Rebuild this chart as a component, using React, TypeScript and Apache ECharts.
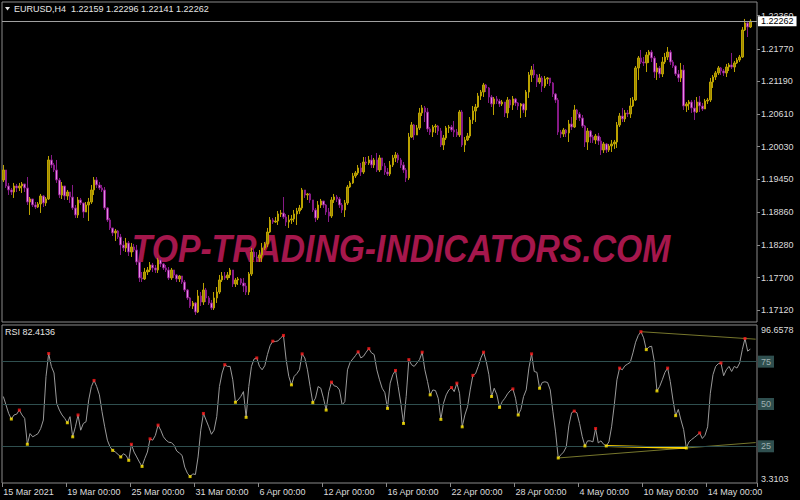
import React, { useEffect, useRef } from 'react';
import * as echarts from 'echarts';

const symbolName = 'EURUSD,H4';
const firstOpen = 1.19436;

const closes = [
  1.19614,1.19329,1.19258,1.19222,1.19329,1.19294,1.19329,1.19365,1.19294,1.19044,
  1.19098,1.18991,1.18955,1.19009,1.19151,1.19027,1.19098,1.19792,1.19703,1.19614,
  1.19436,1.19169,1.19329,1.19151,1.19222,1.19133,1.18938,1.18813,1.19080,1.19027,
  1.18866,1.18991,1.19044,1.19258,1.19436,1.19347,1.19294,1.19258,1.18938,1.18724,
  1.18582,1.18493,1.18528,1.18421,1.18279,1.18226,1.18315,1.18154,1.18243,1.18190,
  1.17976,1.17692,1.17674,1.17798,1.17834,1.17923,1.17870,1.17834,1.18012,1.17941,
  1.17870,1.17834,1.17692,1.17834,1.17745,1.17674,1.17727,1.17620,1.17478,1.17336,
  1.17193,1.17247,1.17086,1.17371,1.17264,1.17478,1.17336,1.17247,1.17158,1.17336,
  1.17442,1.17656,1.17727,1.17692,1.17745,1.17834,1.17585,1.17656,1.17674,1.17603,
  1.17549,1.17442,1.17763,1.18154,1.18066,1.18048,1.18101,1.18226,1.18297,1.18510,
  1.18724,1.18688,1.18706,1.18831,1.18849,1.18777,1.18688,1.18724,1.18742,1.18831,
  1.18884,1.18938,1.19258,1.19169,1.19187,1.19080,1.18902,1.18760,1.18991,1.19062,
  1.18991,1.18866,1.18795,1.19080,1.19133,1.19098,1.18991,1.18902,1.19027,1.19311,
  1.19383,1.19507,1.19561,1.19650,1.19578,1.19756,1.19739,1.19792,1.19703,1.19792,
  1.19614,1.19828,1.19685,1.19578,1.19543,1.19703,1.19828,1.19881,1.19792,1.19703,
  1.19614,1.19472,1.20201,1.20415,1.20237,1.20362,1.20629,1.20718,1.20646,1.20344,
  1.20290,1.20379,1.20397,1.20308,1.20059,1.20184,1.20362,1.20379,1.20326,1.20290,
  1.20237,1.20646,1.20059,1.20148,1.20219,1.20504,1.20664,1.20735,1.20931,1.21002,
  1.21127,1.21074,1.20913,1.20789,1.20878,1.20842,1.20789,1.20824,1.20629,1.20860,
  1.20771,1.20878,1.20807,1.20753,1.20789,1.20682,1.21002,1.21305,1.21394,1.21305,
  1.21180,1.21252,1.21109,1.21234,1.21252,1.21163,1.20967,1.20860,1.20290,1.20255,
  1.20326,1.20273,1.20433,1.20379,1.20682,1.20611,1.20540,1.20397,1.20112,1.20308,
  1.20201,1.20148,1.20219,1.20130,1.19970,1.20077,1.19970,1.20041,1.20077,1.20112,
  1.20415,1.20575,1.20522,1.20629,1.20611,1.20753,1.20860,1.21430,1.21608,1.21536,
  1.21519,1.21661,1.21714,1.21608,1.21358,1.21430,1.21323,1.21536,1.21625,1.21714,
  1.21536,1.21465,1.21323,1.21252,1.21394,1.20753,1.20789,1.20824,1.20718,1.20646,
  1.20824,1.20753,1.20700,1.20842,1.20860,1.21180,1.21269,1.21341,1.21430,1.21376,
  1.21341,1.21447,1.21483,1.21447,1.21519,1.21572,1.21625,1.22106,1.22231,1.22159,
  1.22262,
];

const highs = [
  1.19703,1.19578,1.19383,1.19294,1.19383,1.19365,1.19383,1.19400,1.19365,1.19489,
  1.19133,1.19098,1.19044,1.19044,1.19187,1.19169,1.19133,1.19863,1.19881,1.19739,
  1.19792,1.19472,1.19400,1.19329,1.19258,1.19222,1.19347,1.18991,1.19133,1.19116,
  1.19027,1.19044,1.19116,1.19347,1.19489,1.19489,1.19400,1.19347,1.19311,1.18955,
  1.18760,1.18582,1.18564,1.18546,1.18475,1.18350,1.18404,1.18350,1.18315,1.18297,
  1.18279,1.18012,1.17798,1.17870,1.17887,1.17976,1.17959,1.17923,1.18048,1.18048,
  1.17959,1.17923,1.17887,1.17870,1.17834,1.17763,1.17745,1.17727,1.17656,1.17496,
  1.17353,1.17282,1.17264,1.17478,1.17442,1.17603,1.17514,1.17371,1.17300,1.17442,
  1.17531,1.17745,1.17798,1.17798,1.17798,1.17870,1.17834,1.17692,1.17709,1.17692,
  1.17692,1.17603,1.17798,1.18226,1.18226,1.18154,1.18190,1.18315,1.18332,1.18582,
  1.18777,1.18760,1.18777,1.18884,1.18902,1.19133,1.18831,1.18813,1.18813,1.18902,
  1.18938,1.18991,1.19294,1.19258,1.19205,1.19205,1.19080,1.18938,1.19062,1.19098,
  1.19062,1.19009,1.18938,1.19133,1.19187,1.19169,1.19133,1.19027,1.19080,1.19347,
  1.19418,1.19561,1.19596,1.19703,1.19739,1.19845,1.19845,1.19863,1.19881,1.19828,
  1.19917,1.19881,1.19828,1.19739,1.19650,1.19774,1.19881,1.19934,1.19917,1.19828,
  1.19756,1.19650,1.20273,1.20468,1.20433,1.20415,1.20718,1.20771,1.20753,1.20718,
  1.20379,1.20415,1.20433,1.20415,1.20362,1.20237,1.20397,1.20415,1.20415,1.20486,
  1.20344,1.20682,1.20682,1.20201,1.20273,1.20557,1.20753,1.20789,1.20985,1.21038,
  1.21163,1.21145,1.21091,1.20949,1.20913,1.20931,1.20878,1.20860,1.20824,1.20913,
  1.20878,1.20931,1.20896,1.20824,1.20807,1.20807,1.21038,1.21358,1.21465,1.21501,
  1.21323,1.21323,1.21287,1.21287,1.21269,1.21252,1.21180,1.20985,1.20896,1.20326,
  1.20362,1.20344,1.20504,1.20557,1.20771,1.20700,1.20646,1.20593,1.20415,1.20362,
  1.20326,1.20237,1.20255,1.20273,1.20201,1.20112,1.20095,1.20077,1.20148,1.20148,
  1.20468,1.20629,1.20718,1.20682,1.20682,1.20896,1.20913,1.21465,1.21643,1.21750,
  1.21625,1.21714,1.21750,1.21750,1.21643,1.21519,1.21465,1.21625,1.21697,1.21803,
  1.21750,1.21572,1.21483,1.21394,1.21519,1.21483,1.20824,1.20860,1.20860,1.20860,
  1.20913,1.20931,1.20807,1.20878,1.20896,1.21252,1.21305,1.21376,1.21465,1.21447,
  1.21412,1.21501,1.21519,1.21697,1.21554,1.21608,1.21661,1.22159,1.22302,1.22266,
  1.22296,
];

const lows = [
  1.19400,1.19294,1.19169,1.19169,1.19116,1.19222,1.19240,1.19205,1.19222,1.18991,
  1.18813,1.18955,1.18920,1.18938,1.18849,1.18955,1.18973,1.19080,1.19650,1.19578,
  1.19383,1.19116,1.19098,1.19080,1.19080,1.19027,1.18902,1.18760,1.18760,1.18991,
  1.18760,1.18866,1.18706,1.19009,1.19169,1.19294,1.19258,1.19222,1.18902,1.18688,
  1.18546,1.18439,1.18350,1.18386,1.18101,1.18172,1.18154,1.18083,1.18066,1.18154,
  1.17923,1.17620,1.17620,1.17656,1.17745,1.17798,1.17798,1.17781,1.17781,1.17887,
  1.17834,1.17798,1.17656,1.17656,1.17692,1.17620,1.17620,1.17585,1.17442,1.17300,
  1.17158,1.17140,1.17033,1.17069,1.17193,1.17211,1.17264,1.17211,1.17122,1.17122,
  1.17247,1.17407,1.17620,1.17656,1.17656,1.17692,1.17531,1.17531,1.17567,1.17567,
  1.17442,1.17389,1.17389,1.17727,1.18012,1.17976,1.17976,1.17976,1.18190,1.18243,
  1.18493,1.18653,1.18671,1.18635,1.18777,1.18742,1.18617,1.18582,1.18653,1.18688,
  1.18635,1.18831,1.18902,1.19116,1.19080,1.19027,1.18866,1.18688,1.18724,1.18938,
  1.18938,1.18813,1.18688,1.18760,1.19027,1.19044,1.18938,1.18849,1.18777,1.18991,
  1.19294,1.19365,1.19472,1.19525,1.19507,1.19543,1.19703,1.19703,1.19650,1.19650,
  1.19578,1.19578,1.19614,1.19525,1.19507,1.19507,1.19667,1.19756,1.19739,1.19650,
  1.19561,1.19400,1.19436,1.20184,1.20148,1.20290,1.20326,1.20575,1.20468,1.20290,
  1.20237,1.20201,1.20273,1.20237,1.20023,1.19970,1.20148,1.20273,1.20290,1.20201,
  1.20201,1.20201,1.20023,1.19934,1.20130,1.20184,1.20433,1.20468,1.20718,1.20860,
  1.20913,1.21002,1.20807,1.20735,1.20593,1.20789,1.20735,1.20753,1.20557,1.20540,
  1.20718,1.20682,1.20753,1.20682,1.20540,1.20629,1.20557,1.20896,1.21180,1.21252,
  1.21091,1.21145,1.21002,1.21074,1.21145,1.21109,1.20913,1.20807,1.20237,1.20184,
  1.20201,1.20201,1.20112,1.20326,1.20362,1.20504,1.20486,1.20362,1.20023,1.19970,
  1.20095,1.20095,1.20077,1.20059,1.19881,1.19917,1.19917,1.19934,1.19934,1.19988,
  1.20006,1.20379,1.20468,1.20468,1.20557,1.20540,1.20735,1.20842,1.21216,1.21501,
  1.21465,1.21358,1.21519,1.21536,1.21252,1.21216,1.21252,1.21269,1.21501,1.21572,
  1.21483,1.21430,1.21287,1.21180,1.21180,1.20682,1.20646,1.20682,1.20629,1.20504,
  1.20629,1.20646,1.20664,1.20700,1.20789,1.20824,1.21074,1.21216,1.21305,1.21305,
  1.21287,1.21269,1.21376,1.21412,1.21358,1.21501,1.21536,1.21608,1.22088,1.21981,
  1.22141,
];

const rsiValues = [
  54.4,49.4,44.4,41.1,43.5,44.0,46.4,43.5,41.5,26.2,
  32.5,30.6,31.5,32.5,35.5,40.5,66.3,79.8,72.2,68.3,
  50.4,46.4,43.5,41.5,38.9,42.5,30.6,36.5,43.5,34.5,
  38.5,39.5,52.4,60.3,63.9,60.3,55.4,45.4,36.5,28.6,
  24.6,22.6,21.6,20.2,18.7,20.6,19.6,16.7,26.2,21.6,
  18.7,15.7,13.1,17.7,21.6,29.4,28.6,31.5,37.5,34.5,
  30.6,28.6,27.4,27.2,25.6,22.2,21.0,19.6,12.7,9.1,
  7.1,8.7,8.3,18.7,34.5,44.4,40.5,36.5,32.1,34.5,
  42.5,60.3,68.3,73.2,72.2,72.2,64.3,51.0,52.4,54.4,
  57.3,42.1,60.3,72.2,76.6,77.2,72.2,70.2,72.6,79.2,
  84.5,87.1,86.9,87.3,89.1,90.5,76.2,66.3,61.3,66.3,
  67.9,70.2,79.6,77.2,70.2,60.3,50.8,53.4,60.3,59.3,
  53.4,46.4,57.3,62.9,60.7,60.3,58.3,49.4,51.4,70.2,
  74.6,76.6,78.6,80.8,77.2,78.2,80.6,82.7,80.2,79.2,
  70.2,64.3,59.3,56.7,47.4,62.3,67.3,69.8,60.3,50.4,
  38.5,54.4,76.2,73.2,72.2,74.2,76.2,80.6,70.2,63.3,
  55.4,58.3,57.9,53.4,40.9,50.4,55.4,58.3,59.7,57.3,
  62.3,56.3,36.5,43.5,48.4,58.3,66.9,67.9,72.2,77.2,
  80.6,75.2,67.3,54.4,59.3,55.4,48.0,51.4,53.4,56.0,
  57.9,58.9,53.4,43.5,46.8,54.4,58.3,71.2,79.6,69.2,
  68.7,59.3,62.7,63.1,62.7,58.3,45.4,33.5,18.1,20.0,
  21.6,24.6,37.5,44.8,45.8,44.8,38.5,30.6,25.2,28.2,
  28.2,27.6,35.5,27.0,28.2,26.2,25.2,27.6,36.5,49.4,
  64.3,71.2,70.2,72.6,73.6,74.6,80.2,86.5,90.5,92.7,
  89.1,82.1,83.7,84.1,75.2,57.7,60.3,64.3,68.7,71.2,
  63.3,52.4,43.1,46.8,40.5,34.9,24.0,27.6,29.0,30.2,
  31.5,32.9,29.6,31.5,36.5,56.3,67.3,72.2,73.8,74.2,
  66.7,70.2,72.2,69.2,72.2,71.2,74.2,82.1,88.7,81.2,
  82.4136,
];

const rsiPeaks = [6,17,28,34,48,55,58,75,83,95,101,105,112,123,133,137,147,152,157,168,170,176,180,191,198,214,222,231,239,249,261,269,278];
const rsiTroughs = [3,9,24,26,41,44,47,52,70,87,91,108,116,121,144,150,160,164,172,183,186,193,201,208,218,226,241,245,252,256];

const priceTicks = [1.1712, 1.177, 1.1828, 1.1886, 1.1945, 1.2003, 1.2061, 1.2119, 1.2177, 1.2236];
const priceMin = 1.16908;
const priceMax = 1.22604;
const rsiLevels = [75, 50, 25];
const rsiMin = 3.3103;
const rsiMax = 96.6578;
const timeLabels = ['15 Mar 2021', '19 Mar 00:00', '25 Mar 00:00', '31 Mar 00:00', '6 Apr 00:00', '12 Apr 00:00', '16 Apr 00:00', '22 Apr 00:00', '28 Apr 00:00', '4 May 00:00', '10 May 00:00', '14 May 00:00'];
const timeLabelBars = [0, 24, 48, 72, 96, 120, 144, 168, 192, 216, 240, 264];
const upperTrendBars = [239, 278];
const lowerTrendBars = [208, 256];
const supportSegmentBars = [226, 256];
const emptySlotsRight = 2;

const FONT = '"Liberation Sans", Arial, sans-serif';

export default function App() {
  const ref = useRef<HTMLDivElement>(null);
  useEffect(() => {
    if (!ref.current) return;
    const chart = echarts.init(ref.current, undefined, { renderer: 'svg' });
    const n = closes.length;
    const slots = n + emptySlotsRight;
    const categories = Array.from({ length: slots }, (_, i) => String(i));
    const candles = closes.map((c, i) => {
      const o = i === 0 ? firstOpen : closes[i - 1];
      return [o, c, Math.min(lows[i], o, c), Math.max(highs[i], o, c)];
    });
    const labelMap = new Map<number, string>();
    timeLabelBars.forEach((b, k) => labelMap.set(b, timeLabels[k]));
    const lastX = slots - 1;
    const extend = (bars: number[]) => {
      const [a, b] = bars;
      const va = rsiValues[a];
      const vb = rsiValues[b];
      const ve = va + ((vb - va) * (lastX - a)) / (b - a);
      return [[a, va], [lastX, ve]];
    };
    const last = n - 1;
    const bid = closes[last];
    const title = `${symbolName}  ${closes[last - 1].toFixed(5)} ${highs[last].toFixed(5)} ${lows[last].toFixed(5)} ${bid.toFixed(5)}`;

    const option: any = {
      backgroundColor: '#000000',
      animation: false,
      textStyle: { fontFamily: FONT },
      grid: [
        { left: 2, top: 2, width: 755, height: 320, show: true, borderColor: '#8a8a8a', borderWidth: 1 },
        { left: 2, top: 325, width: 755, height: 158, show: true, borderColor: '#8a8a8a', borderWidth: 1 },
      ],
      xAxis: [
        { type: 'category', gridIndex: 0, data: categories, show: false },
        {
          type: 'category', gridIndex: 1, data: categories,
          axisLine: { show: false },
          splitLine: { show: false },
          axisTick: { show: true, interval: (i: number) => labelMap.has(i), length: 4, lineStyle: { color: '#8a8a8a' } },
          axisLabel: {
            interval: (i: number) => labelMap.has(i),
            formatter: (_v: string, i: number) => labelMap.get(i) ?? '',
            align: 'left', color: '#dcdcdc', fontSize: 9, margin: 4, fontFamily: FONT,
          },
        },
      ],
      yAxis: [
        {
          type: 'value', gridIndex: 0, position: 'right', min: priceMin, max: priceMax,
          splitLine: { show: false }, axisLine: { show: false },
          axisTick: { show: true, customValues: priceTicks, length: 3, lineStyle: { color: '#8a8a8a' } },
          axisLabel: { customValues: priceTicks, formatter: (v: number) => v.toFixed(5), color: '#dcdcdc', fontSize: 9, margin: 4, fontFamily: FONT },
        },
        {
          type: 'value', gridIndex: 1, position: 'right', min: rsiMin, max: rsiMax,
          splitLine: { show: false }, axisLine: { show: false }, axisTick: { show: false }, axisLabel: { show: false },
        },
      ],
      series: [
        {
          type: 'line', xAxisIndex: 0, yAxisIndex: 0, data: [], symbol: 'none', z: 1,
          markLine: {
            silent: true, symbol: ['none', 'none'], precision: 5,
            lineStyle: { color: '#a0a0a0', width: 1, type: 'solid' },
            label: { show: true, position: 'end', formatter: bid.toFixed(5), backgroundColor: '#ffffff', color: '#000000', fontSize: 9, padding: [1, 3, 0, 3], distance: 1, fontFamily: FONT },
            data: [{ yAxis: bid }],
          },
        },
        {
          type: 'candlestick', xAxisIndex: 0, yAxisIndex: 0, data: candles, barWidth: 2, z: 2,
          itemStyle: { color: '#a08a00', color0: '#e48ae4', borderColor: '#bba200', borderColor0: '#861a86', borderWidth: 1 },
        },
        {
          type: 'line', xAxisIndex: 1, yAxisIndex: 1, data: extend(upperTrendBars), symbol: 'none', z: 2,
          lineStyle: { color: '#77772c', width: 1 },
          markLine: {
            silent: true, symbol: ['none', 'none'],
            lineStyle: { color: '#2f4f4f', width: 1, type: 'solid' },
            label: { show: true, position: 'end', formatter: '{c}', backgroundColor: '#2f4f4f', color: '#9fb0b0', fontSize: 9, padding: [2, 3, 1, 3], distance: 1, fontFamily: FONT },
            data: rsiLevels.map((v) => ({ yAxis: v })),
          },
        },
        { type: 'line', xAxisIndex: 1, yAxisIndex: 1, data: extend(lowerTrendBars), symbol: 'none', z: 2, lineStyle: { color: '#77772c', width: 1 } },
        {
          type: 'line', xAxisIndex: 1, yAxisIndex: 1, symbol: 'none', z: 3,
          data: supportSegmentBars.map((b) => [b, rsiValues[b]]),
          lineStyle: { color: '#ffd400', width: 2 },
        },
        { type: 'line', xAxisIndex: 1, yAxisIndex: 1, data: rsiValues, symbol: 'none', z: 4, lineStyle: { color: '#9a9a9a', width: 1 } },
        {
          type: 'scatter', xAxisIndex: 1, yAxisIndex: 1, symbol: 'rect', symbolSize: 3, z: 5,
          itemStyle: { color: '#ff1a1a' }, data: rsiPeaks.map((i) => [i, rsiValues[i]]),
        },
        {
          type: 'scatter', xAxisIndex: 1, yAxisIndex: 1, symbol: 'rect', symbolSize: 3, z: 5,
          itemStyle: { color: '#ffe600' }, data: rsiTroughs.map((i) => [i, rsiValues[i]]),
        },
      ],
      graphic: [
        {
          type: 'text', x: 401, y: 249, z: 1, scaleX: 0.886, silent: true,
          style: { text: 'TOP-TRADING-INDICATORS.COM', fill: '#a5174c', fontSize: 38, fontWeight: 'bold', fontStyle: 'italic', fontFamily: FONT, align: 'center', verticalAlign: 'middle' },
        },
        { type: 'polygon', z: 100, shape: { points: [[5, 7], [10, 7], [7.5, 10.5]] }, style: { fill: '#e6e6e6' } },
        { type: 'text', x: 14, y: 9, z: 100, style: { text: title, fill: '#e6e6e6', fontSize: 9, fontFamily: FONT, verticalAlign: 'middle' } },
        { type: 'text', x: 5, y: 332, z: 100, style: { text: 'RSI ' + rsiValues[last].toFixed(4), fill: '#e6e6e6', fontSize: 9, fontFamily: FONT, verticalAlign: 'middle' } },
        { type: 'text', x: 761, y: 330, z: 100, style: { text: rsiMax.toFixed(4), fill: '#dcdcdc', fontSize: 9, fontFamily: FONT, verticalAlign: 'middle' } },
        { type: 'text', x: 761, y: 479, z: 100, style: { text: rsiMin.toFixed(4), fill: '#dcdcdc', fontSize: 9, fontFamily: FONT, verticalAlign: 'middle' } },
      ],
    };
    chart.setOption(option);
    return () => chart.dispose();
  }, []);
  return <div ref={ref} style={{ position: 'absolute', left: 0, top: 0, width: 800, height: 500, background: '#000' }} />;
}
